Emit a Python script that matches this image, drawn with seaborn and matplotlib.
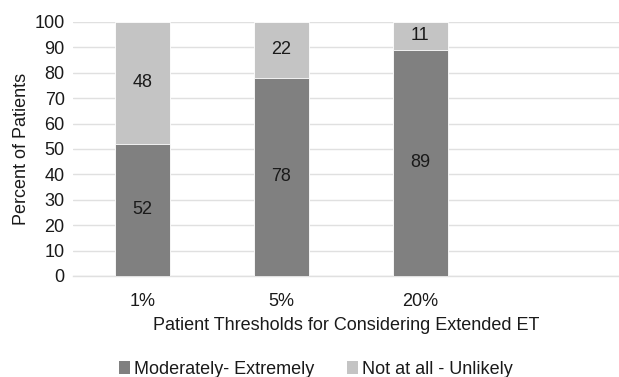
import matplotlib
matplotlib.use("Agg")
import matplotlib.pyplot as plt
import seaborn as sns
import pandas as pd
import numpy as np
from matplotlib.patches import Patch

categories = ["1%", "5%", "20%"]
moderately = [52, 78, 89]
not_at_all = [48, 22, 11]
series_names = ["Moderately- Extremely", "Not at all - Unlikely"]
dark = "#808080"
light = "#c4c4c4"

sns.set_theme(style="white")
plt.rcParams['font.family'] = ['Liberation Sans', 'DejaVu Sans']

fig = plt.figure(figsize=(6.19, 3.77), dpi=100)
ax = fig.add_axes([0.118, 0.268, 0.882, 0.674])

df = pd.DataFrame({"cat": categories, "mod": moderately, "not": not_at_all})
df["total"] = df["mod"] + df["not"]

sns.barplot(data=df, x="cat", y="total", color=light, width=0.4, ax=ax,
            edgecolor="white", linewidth=0.6, saturation=1, zorder=2)
sns.barplot(data=df, x="cat", y="mod", color=dark, width=0.4, ax=ax,
            edgecolor="white", linewidth=0.6, saturation=1, zorder=3)

for i, (m, n) in enumerate(zip(moderately, not_at_all)):
    ax.text(i, m / 2, str(m), ha="center", va="center", fontsize=13, color="#1a1a1a", zorder=4)
    ax.text(i, m + n / 2, str(n), ha="center", va="center", fontsize=13, color="#1a1a1a", zorder=4)

ax.set_xlim(-0.5, 3.43)
ax.set_ylim(0, 100)
ax.set_yticks(range(0, 101, 10))
ax.yaxis.grid(True, color="#e0e0e0", linewidth=1, zorder=0)
ax.set_axisbelow(True)
for s in ["top", "right", "left"]:
    ax.spines[s].set_visible(False)
ax.spines["bottom"].set_color("#e0e0e0")
ax.spines["bottom"].set_linewidth(1)
ax.tick_params(axis="both", length=0, labelsize=13, colors="#1a1a1a")
ax.tick_params(axis="x", pad=12)
ax.tick_params(axis="y", pad=6)
ax.set_xlabel("Patient Thresholds for Considering Extended ET", fontsize=13, color="#1a1a1a", labelpad=5)
ax.set_ylabel("Percent of Patients", fontsize=13, color="#1a1a1a", labelpad=3)

handles = [Patch(facecolor=dark, edgecolor="none"), Patch(facecolor=light, edgecolor="none")]
fig.legend(handles, series_names, loc="center", bbox_to_anchor=(0.51, 0.02), ncol=2,
           frameon=False, fontsize=13, handlelength=0.65, handleheight=0.7,
           handletextpad=0.2, columnspacing=1.8, labelcolor="#1a1a1a")

fig.savefig("out.png", dpi=100)
